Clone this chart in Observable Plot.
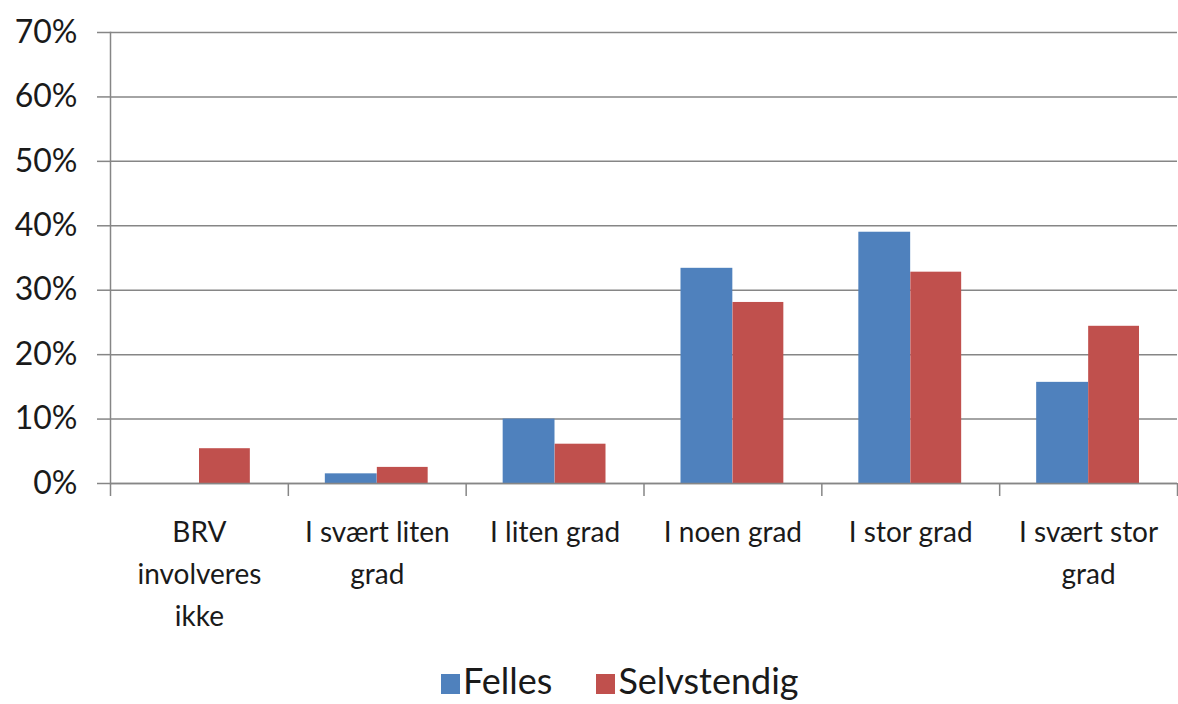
<!DOCTYPE html>
<html>
<head>
<meta charset="utf-8">
<script src="https://cdn.jsdelivr.net/npm/d3@7"></script>
<script src="https://cdn.jsdelivr.net/npm/@observablehq/plot@0.6"></script>
<style>
  html, body { margin: 0; padding: 0; background: #fff; }
  #wrap { position: relative; width: 1178px; height: 704px; overflow: hidden; font-family: Lato, "Open Sans", sans-serif; color: #1a1a1a; }
  #legend { position: absolute; left: 441px; top: 662px; height: 36px; display: flex; align-items: center; font-size: 36px; line-height: 36px; white-space: nowrap; }
  .item { display: flex; align-items: center; }
  .sw { width: 19px; height: 20px; display: inline-block; margin-right: 3px; margin-top: 8px; }
</style>
</head>
<body>
<div id="wrap"><div id="chart"></div><div id="legend"></div></div>
<script>
const categories = ["BRV involveres ikke", "I svært liten grad", "I liten grad", "I noen grad", "I stor grad", "I svært stor grad"];
const categoryLabels = ["BRV\ninvolveres\nikke", "I svært liten\ngrad", "I liten grad", "I noen grad", "I stor grad", "I svært stor\ngrad"];
const seriesNames = ["Felles", "Selvstendig"];
const felles = [0, 0.015, 0.100, 0.334, 0.390, 0.157];
const selvstendig = [0.054, 0.025, 0.061, 0.281, 0.328, 0.244];
const yTicks = [0, 0.1, 0.2, 0.3, 0.4, 0.5, 0.6, 0.7];
const colors = ["#4F81BD", "#C0504D"];

const W = 1178, H = 660;
const mL = 110, mR = 1, mT = 32, mB = H - 483;
const bw = (W - mL - mR) / categories.length;
const gray = "#868686";

const fellesRows = categories.map((c, i) => ({category: c, series: seriesNames[0], value: felles[i]}));
const selvRows = categories.map((c, i) => ({category: c, series: seriesNames[1], value: selvstendig[i]}));
const labelOf = new Map(categories.map((c, i) => [c, categoryLabels[i]]));

const chart = Plot.plot({
  width: W, height: H,
  marginLeft: mL, marginRight: mR, marginTop: mT, marginBottom: mB,
  style: {fontFamily: "Lato, 'Open Sans', sans-serif", color: "#1a1a1a", background: "#fff"},
  x: {type: "band", domain: categories, padding: 0, round: false, axis: null},
  y: {domain: [0, 0.7], axis: null},
  marks: [
    Plot.gridY(yTicks, {stroke: gray, strokeOpacity: 1, strokeWidth: 1.5}),
    Plot.axisY({ticks: yTicks, tickFormat: d3.format(".0%"), tickSize: 13, tickPadding: 20, fontSize: 32, stroke: gray, strokeWidth: 1.5, label: null}),
    Plot.frame({anchor: "left", stroke: gray, strokeWidth: 1.5}),
    Plot.barY(fellesRows, {x: "category", y: "value", fill: colors[0], insetLeft: 37, insetRight: 89}),
    Plot.barY(selvRows, {x: "category", y: "value", fill: colors[1], insetLeft: 89, insetRight: 38}),
    Plot.ruleY([0], {stroke: gray, strokeWidth: 1.5}),
    Plot.axisX({ticks: categories, tickSize: 13, tickFormat: () => "", dx: -bw / 2, stroke: gray, strokeWidth: 1.5, label: null}),
    Plot.axisX({ticks: categories.slice(-1), tickSize: 13, tickFormat: () => "", dx: bw / 2, stroke: gray, strokeWidth: 1.5, label: null}),
    Plot.axisX({ticks: categories, tickSize: 0, tickPadding: 29, tickFormat: d => labelOf.get(d), fontSize: 28, lineHeight: 1.5, label: null, fill: "#1a1a1a"})
  ]
});
document.getElementById("chart").appendChild(chart);

const legend = document.getElementById("legend");
seriesNames.forEach((name, i) => {
  const item = document.createElement("span");
  item.className = "item";
  item.style.marginRight = i === 0 ? "44px" : "0";
  const sw = document.createElement("span");
  sw.className = "sw";
  sw.style.background = colors[i];
  item.appendChild(sw);
  item.appendChild(document.createTextNode(name));
  legend.appendChild(item);
});
</script>
</body>
</html>
